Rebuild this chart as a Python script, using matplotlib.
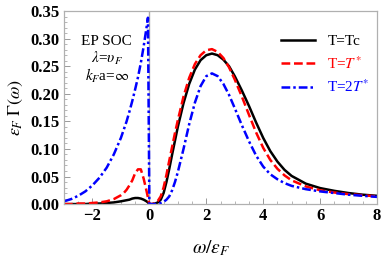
import numpy as np
import matplotlib
matplotlib.use('Agg')
import matplotlib.pyplot as plt
from matplotlib.ticker import MultipleLocator

plt.rcParams['font.family'] = ['Liberation Serif', 'DejaVu Serif']
plt.rcParams['mathtext.fontset'] = 'stix'

# omega / eps_F grid
w = [-3, -2.75, -2.5, -2.25, -2, -1.75, -1.5, -1.25, -1,
     -0.9, -0.8, -0.7, -0.6, -0.5, -0.4, -0.3, -0.2, -0.1,
     -0.05, 0,
     0.1, 0.2, 0.3, 0.4, 0.5, 0.6, 0.7, 0.8, 0.9, 1.0,
     1.2, 1.4, 1.6, 1.8, 2.0, 2.2, 2.4, 2.6, 2.8, 3.0,
     3.25, 3.5, 3.75, 4.0, 4.25, 4.5, 4.75, 5.0,
     5.5, 6.0, 6.5, 7.0, 7.5, 8.0]

gamma_tc = [0.000, 0.000, 0.000, 0.000, 0.001, 0.001, 0.002, 0.003, 0.005,
            0.006, 0.007, 0.008, 0.010, 0.011, 0.011, 0.010, 0.008, 0.005,
            0.003, 0.000,
            0.000, 0.001, 0.003, 0.008, 0.020, 0.040, 0.064, 0.090, 0.115, 0.140,
            0.183, 0.218, 0.244, 0.261, 0.270, 0.273, 0.270, 0.262, 0.250, 0.232,
            0.206, 0.178, 0.148, 0.120, 0.096, 0.077, 0.062, 0.051,
            0.037, 0.029, 0.024, 0.020, 0.017, 0.015]

gamma_t1 = [0.000, 0.000, 0.001, 0.001, 0.002, 0.003, 0.005, 0.009, 0.016,
            0.020, 0.026, 0.034, 0.043, 0.056, 0.063, 0.063, 0.046, 0.024,
            0.012, 0.000,
            0.000, 0.002, 0.006, 0.014, 0.030, 0.053, 0.079, 0.104, 0.129, 0.152,
            0.195, 0.229, 0.254, 0.270, 0.279, 0.281, 0.276, 0.265, 0.248, 0.226,
            0.195, 0.162, 0.130, 0.102, 0.080, 0.064, 0.052, 0.043,
            0.032, 0.025, 0.021, 0.018, 0.016, 0.014]

gamma_t2 = [0.005, 0.009, 0.015, 0.023, 0.034, 0.048, 0.066, 0.090, 0.120,
            0.135, 0.150, 0.168, 0.187, 0.208, 0.230, 0.256, 0.286, 0.320,
            0.338, 0.000,
            0.000, 0.000, 0.001, 0.002, 0.004, 0.008, 0.014, 0.025, 0.040, 0.058,
            0.100, 0.145, 0.184, 0.214, 0.232, 0.237, 0.232, 0.218, 0.198, 0.174,
            0.143, 0.114, 0.088, 0.068, 0.054, 0.045, 0.038, 0.033,
            0.027, 0.023, 0.020, 0.017, 0.015, 0.013]

fig = plt.figure(figsize=(3.82, 2.58), dpi=100)
ax = fig.add_axes([0.1675, 0.209, 0.8195, 0.748])

ax.axvline(0, color='#aaaaaa', lw=1.0, zorder=1)
ax.plot(w, gamma_tc, color='black', lw=1.8, label='T=Tc')
ax.plot(w, gamma_t1, color='red', lw=1.8, ls=(0, (3.5, 1.5)), label='T=$T^{*}$')
ax.plot(w, gamma_t2, color='blue', lw=1.8, ls=(0, (3.5, 1.2, 1, 1.2)), label='T=2$T^{*}$')

ax.set_xlim(-3, 8)
ax.set_ylim(0, 0.35)
ax.xaxis.set_minor_locator(MultipleLocator(0.5))
ax.yaxis.set_minor_locator(MultipleLocator(0.01))
ax.set_yticks(np.arange(0, 0.351, 0.05))
ax.set_yticklabels(['%.2f' % v for v in np.arange(0, 0.351, 0.05)])
ax.set_xticks([-2, 0, 2, 4, 6, 8])
ax.set_xticklabels(['\u22122', '0', '2', '4', '6', '8'])

for s in ax.spines.values():
    s.set_color('#b0b0b0')
    s.set_linewidth(0.9)
ax.tick_params(which='both', direction='in', color='#999999', top=False, right=False)
ax.tick_params(which='major', length=4, width=0.7, labelsize=12, pad=3)
ax.tick_params(which='minor', length=2, width=0.5)
for lab in ax.get_xticklabels() + ax.get_yticklabels():
    lab.set_fontweight('bold')

ax.set_ylabel(r'$\varepsilon_F\ \Gamma(\omega)$', fontsize=13, labelpad=4)
ax.set_xlabel(r'$\omega/\varepsilon_F$', fontsize=14)
ax.xaxis.set_label_coords(0.47, -0.175)

ax.text(0.137, 0.845, 'EP SOC', transform=ax.transAxes, ha='center', va='center', fontsize=11)
ax.text(0.137, 0.755, r'$\lambda$=$\upsilon_F$', transform=ax.transAxes, ha='center', va='center', fontsize=11)
ax.text(0.137, 0.665, r'$k_F$a=$\infty$', transform=ax.transAxes, ha='center', va='center', fontsize=11)

leg = ax.legend(loc='upper right', bbox_to_anchor=(1.02, 0.95), frameon=False, fontsize=11,
                handlelength=2.2, handletextpad=0.8, labelspacing=0.45)
for t, c in zip(leg.get_texts(), ['black', 'red', 'blue']):
    t.set_color(c)

fig.savefig('out.png', dpi=100)
